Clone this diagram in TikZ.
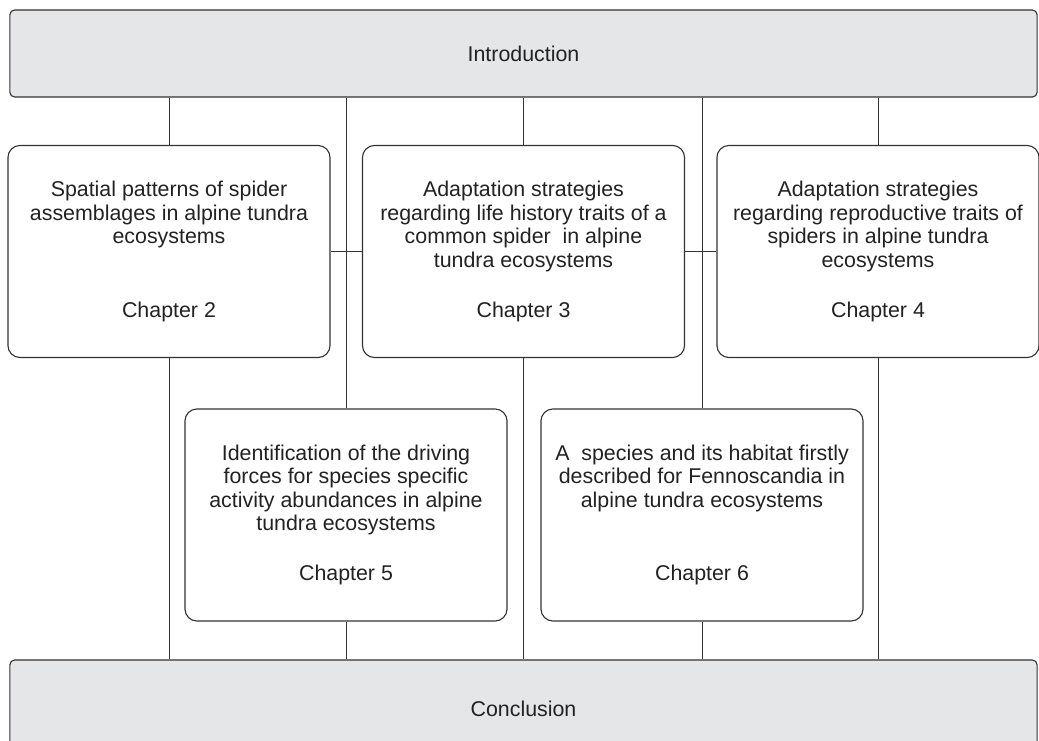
\documentclass[tikz,border=0pt]{standalone}
\usepackage{fontspec}
\setmainfont{Liberation Sans}
\usepackage{xcolor}
\definecolor{panelgrey}{HTML}{E5E6E8}
\definecolor{edgegrey}{HTML}{333333}
\definecolor{textgrey}{HTML}{222222}

\begin{document}
\begin{tikzpicture}[x=0.025cm,y=-0.025cm,
    font=\fontsize{15.2}{16.7}\selectfont,
    band/.style={shape=rectangle,
      rounded corners=1.2mm,
      draw=edgegrey,
      line width=0.8pt,
      fill=panelgrey,
      text=textgrey,
      minimum width=25.675cm,
      minimum height=2.175cm},
    chapter/.style={shape=rectangle,
      rounded corners=3mm,
      draw=edgegrey,
      line width=0.8pt,
      fill=white,
      text=textgrey,
      align=center,
      minimum width=8.05cm,
      minimum height=5.3cm},
    link/.style={draw=edgegrey,line width=0.6pt}]
      %\draw[help lines] (0,0) grid[step=100] (1039,741); % Only for Development
      \useasboundingbox (0,0) rectangle (1039,741);

      \node[band] (intro) at (523.5,53.5) {Introduction};
      \node[band,minimum height=2.45cm] (concl) at (523.5,709) {Conclusion};

      \node[chapter] (ch2) at (169,251.5) {Spatial patterns of spider\\
        assemblages in alpine tundra\\
        ecosystems\\[35.7pt]
        Chapter 2};
      \node[chapter] (ch3) at (523.5,251.5) {Adaptation strategies\\
        regarding life history traits of a\\
        common spider\ \ in alpine\\
        tundra ecosystems\\[18.7pt]
        Chapter 3};
      \node[chapter] (ch4) at (878,251.5) {Adaptation strategies\\
        regarding reproductive traits of\\
        spiders in alpine tundra\\
        ecosystems\\[18.7pt]
        Chapter 4};
      \node[chapter] (ch5) at (346,515) {Identification of the driving\\
        forces for species specific\\
        activity abundances in alpine\\
        tundra ecosystems\\[18.7pt]
        Chapter 5};
      \node[chapter] (ch6) at (702,515) {A\ \ species and its habitat firstly\\
        described for Fennoscandia in\\
        alpine tundra ecosystems\\[35.7pt]
        Chapter 6};

      % links from the introduction
      \foreach \ch in {ch2,ch3,ch4,ch5,ch6}
        \draw[link] (intro.south -| \ch.north) -- (\ch.north);
      % links to the conclusion
      \foreach \ch in {ch2,ch3,ch4,ch5,ch6}
        \draw[link] (\ch.south) -- (\ch.south |- concl.north);
      % links across the first row
      \draw[link] (ch2.east) -- (ch3.west);
      \draw[link] (ch3.east) -- (ch4.west);

    \end{tikzpicture}
\end{document}
